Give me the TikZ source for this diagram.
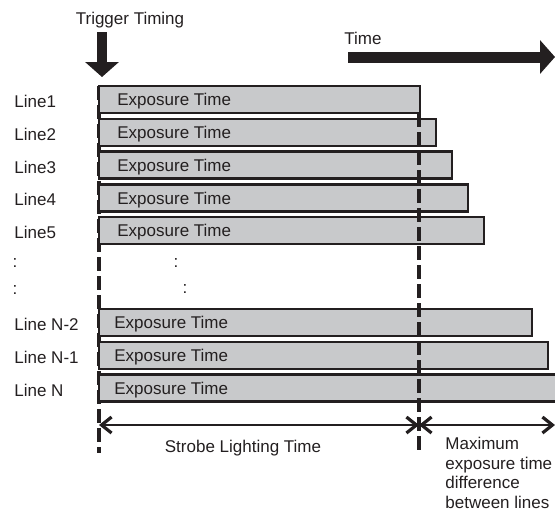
\documentclass[tikz,border=0pt]{standalone}
\usepackage{fontspec}
\setmainfont{Liberation Sans}
\usetikzlibrary{arrows.meta, positioning}
\definecolor{barfill}{RGB}{200,201,203}
\definecolor{ink}{RGB}{35,31,32}
\tikzset{
    bar/.style={draw=ink, fill=barfill, line width=1.25pt, anchor=west, outer sep=0pt,
                minimum height=13.5pt, inner sep=0pt},
    txt/.style={font=\fontsize{8.5}{9.75}\selectfont, text=ink, inner sep=0pt},
    rowtxt/.style={txt, anchor=west, yshift=-1pt},
    tick/.style={draw=ink, line width=2pt, dash pattern=on 7pt off 2.5pt},
    span/.style={{Straight Barb[length=5pt, width=8pt, line width=1.6pt]}-{Straight Barb[length=5pt, width=8pt, line width=1.6pt]},
                 line width=1pt, ink},
    bigarr/.style={-{Triangle[length=7.5pt, width=16.5pt]}, line width=5pt, ink},
}

\begin{document}
\begin{tikzpicture}[x=0.5pt, y=-0.5pt]
    \useasboundingbox (0,0) rectangle (555,510);
    \clip (0,0) rectangle (555,510);
    % trigger and time arrows
    \node[txt] (trig) at (130,20) {Trigger Timing};
    \coordinate (trigtop) at (102,32);
    \coordinate (trigtip) at (102,77);
    \draw[bigarr] (trigtop) -- (trigtip);
    \node[txt] (time) at (363,38) {Time};
    \coordinate (timeL) at (348,57);
    \coordinate (timeR) at (555,57);
    \draw[bigarr, line width=5.5pt] (timeL) -- (timeR);
    % start of strobe (behind the bars)
    \coordinate (startT) at (99,86);
    \coordinate (startB) at (99,453);
    \draw[tick] (startT) -- (startB);
    % one bar per line
    \foreach \n/\y/\w/\lab/\dx in {1/99.5/321/Line1/18, 2/132.25/337/Line2/18,
            3/165/353/Line3/18, 4/197.75/369/Line4/18, 5/230.5/385/Line5/18,
            N2/322.5/433/Line N-2/15, N1/355.25/449/Line N-1/15, N/388/480/Line N/15}{
        \node[rowtxt] (lab\n) at (14,\y) {\lab};
        \node[bar, minimum width=\w*0.5pt] (bar\n) at (99,\y) {};
        \node[rowtxt] (exp\n) at ([xshift=\dx*0.5pt]bar\n.west) {Exposure Time};
    }
    \node[txt] (dotA) at (15,263) {:};
    \node[txt] (dotB) at (15,290) {:};
    \node[txt] (dotC) at (176,263) {:};
    \node[txt] (dotD) at (185,289) {:};
    % end of strobe (over the bars)
    \coordinate (endT) at (419,113);
    \coordinate (endB) at (419,453);
    \draw[tick, line width=1.75pt] (endT) -- (endB);
    % spans
    \coordinate (spanL) at (99,425);
    \coordinate (spanM) at (419,425);
    \coordinate (spanR) at (555,425);
    \draw[span] (spanL) -- (spanM);
    \draw[span] (spanM) -- (spanR);
    \node[txt] (strobe) at (243,448) {Strobe Lighting Time};
    \node[txt, align=left, anchor=north west] (maxdiff) at (445,437)
        {Maximum\\exposure time\\difference\\between lines};
\end{tikzpicture}
\end{document}
